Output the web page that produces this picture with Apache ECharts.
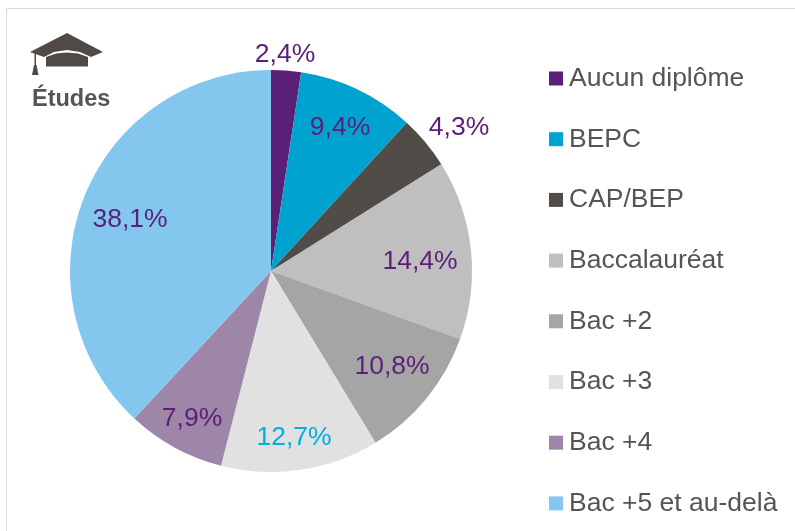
<!DOCTYPE html>
<html><head><meta charset="utf-8">
<style>html,body{margin:0;padding:0;background:#fff}#c{width:795px;height:531px}</style>
<script src="https://cdn.jsdelivr.net/npm/echarts@6/dist/echarts.min.js"></script></head>
<body><div id="c"></div>
<script>
const categories=["Aucun diplôme","BEPC","CAP/BEP","Baccalauréat","Bac +2","Bac +3","Bac +4","Bac +5 et au-delà"];
const values=[2.4,9.4,4.3,14.4,10.8,12.7,7.9,38.1];
const colors=["#5b1f78","#00a3cf","#514c47","#bfbfbf","#a5a5a5","#e1e1e1","#9e86a9","#84c7ee"];
const labelColors=["#5b1f78","#5b1f78","#5b1f78","#5b1f78","#5b1f78","#00aee0","#5b1f78","#5b1f78"];
const labelSpots=[[285,55],[340,128],[459,128],[420,262],[392,367],[294,438],[192,419],[130,220]];
const chart=echarts.init(document.getElementById('c'),null,{renderer:'canvas'});
chart.setOption({
 animation:false,
 legend:{orient:'vertical',left:549,top:64,padding:0,height:500,itemWidth:14,itemHeight:14,itemGap:31.7,icon:'rect',
  textStyle:{fontFamily:'Liberation Sans',fontSize:26.5,color:'#595450',height:29,lineHeight:29,padding:[0,0,0,1]},data:categories},
 graphic:[
  {type:'rect',shape:{x:6.5,y:8.5,width:800,height:540},style:{fill:'none',stroke:'#d9d9d9',lineWidth:1},z:-1},
  {type:'text',style:{x:32,y:88,text:'Études',font:'bold 23.5px "Liberation Sans"',fill:'#595450'}},
  {type:'polygon',shape:{points:[[30,52],[67,33],[103,52],[91,57],[80,52],[67,50],[54,52],[44,57]]},style:{fill:'#4f4a45'}},
  {type:'polygon',shape:{points:[[46,57],[56,53.5],[67,52.5],[78,53.5],[88,57],[88,66.5],[46,66.5]]},style:{fill:'#4f4a45'}},
  {type:'rect',shape:{x:34.5,y:53,width:1.5,height:15},style:{fill:'#4f4a45'}},
  {type:'polygon',shape:{points:[[34,65],[36.5,65],[38.5,75],[32,75]]},style:{fill:'#4f4a45'}}
 ],
 series:[{type:'pie',center:[271,271],radius:[0,201],startAngle:90,clockwise:true,
  label:{show:true,position:'inside',overflow:'none',formatter:p=>p.value.toFixed(1).replace('.',',')+'%',fontFamily:'Liberation Sans',fontSize:26.5},
  labelLine:{show:false},
  labelLayout:p=>{const s=labelSpots[p.dataIndex];return {x:s[0],y:s[1],align:'center',verticalAlign:'middle'};},
  emphasis:{disabled:true},
  data:categories.map((n,i)=>({name:n,value:values[i],itemStyle:{color:colors[i]},label:{color:labelColors[i]}}))
 }]
});
</script></body></html>
